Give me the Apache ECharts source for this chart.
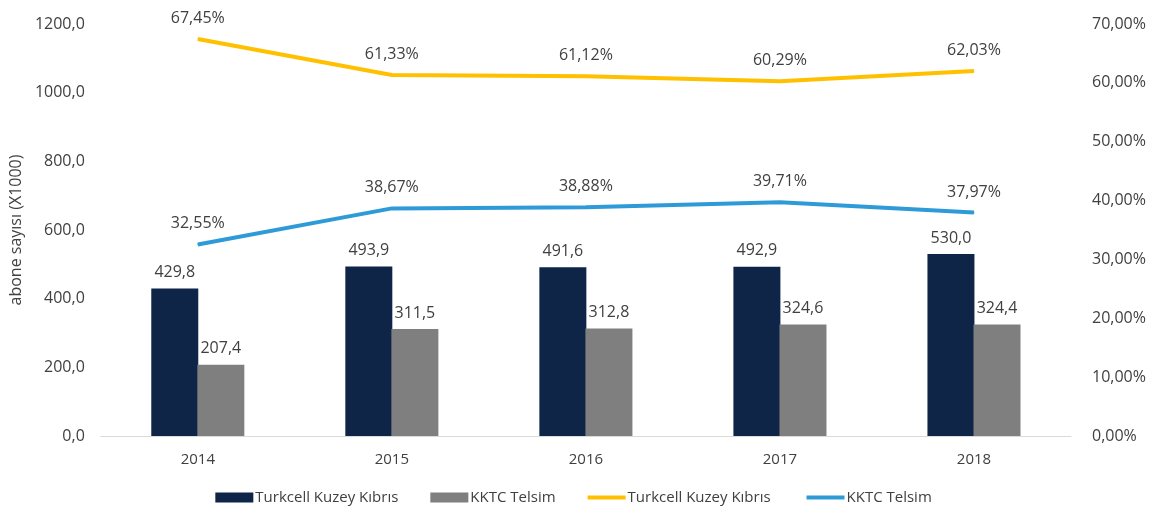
<!DOCTYPE html>
<html>
<head>
<meta charset="utf-8">
<script src="https://cdn.jsdelivr.net/npm/echarts@6/dist/echarts.min.js"></script>
<style>
  html, body { margin: 0; padding: 0; background: #fff; }
  #chart { width: 1151px; height: 513px; }
</style>
</head>
<body>
<div id="chart"></div>
<script>
  // yıllar
  var years = ['2014', '2015', '2016', '2017', '2018']
  // abone sayısı (X1000)
  var turkcellSubs = [429.8, 493.9, 491.6, 492.9, 530.0]
  var telsimSubs = [207.4, 311.5, 312.8, 324.6, 324.4]
  // pazar payı (%)
  var turkcellShare = [67.45, 61.33, 61.12, 60.29, 62.03]
  var telsimShare = [32.55, 38.67, 38.88, 39.71, 37.97]

  var font = 'Open Sans'
  var textColor = '#404040'

  function num1(v) {
    return v.toFixed(1).replace('.', ',')
  }
  function pct2(v) {
    return v.toFixed(2).replace('.', ',') + '%'
  }

  var lineIcon = 'path://M0,0 L40,0 L40,4 L0,4 Z'

  var chart = echarts.init(document.getElementById('chart'))
  chart.setOption({
    animation: false,
    textStyle: { fontFamily: font },
    grid: { left: 95, right: 80, top: 24, bottom: 77 },
    legend: {
      bottom: 3,
      left: 'center',
      itemWidth: 38,
      itemHeight: 10,
      itemGap: 32,
      textStyle: { fontSize: 15, color: textColor, fontFamily: font, padding: [0, 0, 0, -3] },
      data: [
        { name: 'Turkcell Kuzey Kıbrıs', icon: 'rect' },
        { name: 'KKTC Telsim', icon: 'rect' },
        { name: 'Turkcell Kuzey Kıbrıs ', icon: lineIcon, itemStyle: { color: '#ffc000' } },
        { name: 'KKTC Telsim ', icon: lineIcon, itemStyle: { color: '#2e9bd8' } }
      ]
    },
    xAxis: {
      type: 'category',
      data: years,
      axisLine: { lineStyle: { color: '#d9d9d9', width: 1 } },
      axisTick: { show: false },
      axisLabel: { color: textColor, fontSize: 15, margin: 16 }
    },
    yAxis: [
      {
        type: 'value',
        min: 0,
        max: 1200,
        interval: 200,
        name: 'abone sayısı (X1000)',
        nameLocation: 'middle',
        nameGap: 74,
        nameTextStyle: { color: textColor, fontSize: 16 },
        splitLine: { show: false },
        axisLine: { show: false },
        axisTick: { show: false },
        axisLabel: { color: textColor, fontSize: 16, margin: 16, formatter: function (v) { return num1(v) } }
      },
      {
        type: 'value',
        min: 0,
        max: 70,
        interval: 10,
        splitLine: { show: false },
        axisLine: { show: false },
        axisTick: { show: false },
        axisLabel: { color: textColor, fontSize: 16, margin: 21, formatter: function (v) { return pct2(v) } }
      }
    ],
    series: [
      {
        name: 'Turkcell Kuzey Kıbrıs',
        type: 'bar',
        data: turkcellSubs,
        barWidth: 47,
        barGap: '-2%',
        itemStyle: { color: '#0e2548' },
        label: { show: true, position: 'top', distance: 8, color: textColor, fontSize: 16, formatter: function (p) { return num1(p.value) } }
      },
      {
        name: 'KKTC Telsim',
        type: 'bar',
        data: telsimSubs,
        barWidth: 47,
        itemStyle: { color: '#7f7f7f' },
        label: { show: true, position: 'top', distance: 8, color: textColor, fontSize: 16, formatter: function (p) { return num1(p.value) } }
      },
      {
        name: 'Turkcell Kuzey Kıbrıs ',
        type: 'line',
        yAxisIndex: 1,
        data: turkcellShare,
        symbol: 'circle',
        symbolSize: 1,
        showSymbol: true,
        itemStyle: { color: '#ffc000' },
        lineStyle: { color: '#ffc000', width: 4 },
        label: { show: true, position: 'top', distance: 12, color: textColor, fontSize: 16, formatter: function (p) { return pct2(p.value) } }
      },
      {
        name: 'KKTC Telsim ',
        type: 'line',
        yAxisIndex: 1,
        data: telsimShare,
        symbol: 'circle',
        symbolSize: 1,
        showSymbol: true,
        itemStyle: { color: '#2e9bd8' },
        lineStyle: { color: '#2e9bd8', width: 4 },
        label: { show: true, position: 'top', distance: 12, color: textColor, fontSize: 16, formatter: function (p) { return pct2(p.value) } }
      }
    ]
  })
</script>
</body>
</html>
